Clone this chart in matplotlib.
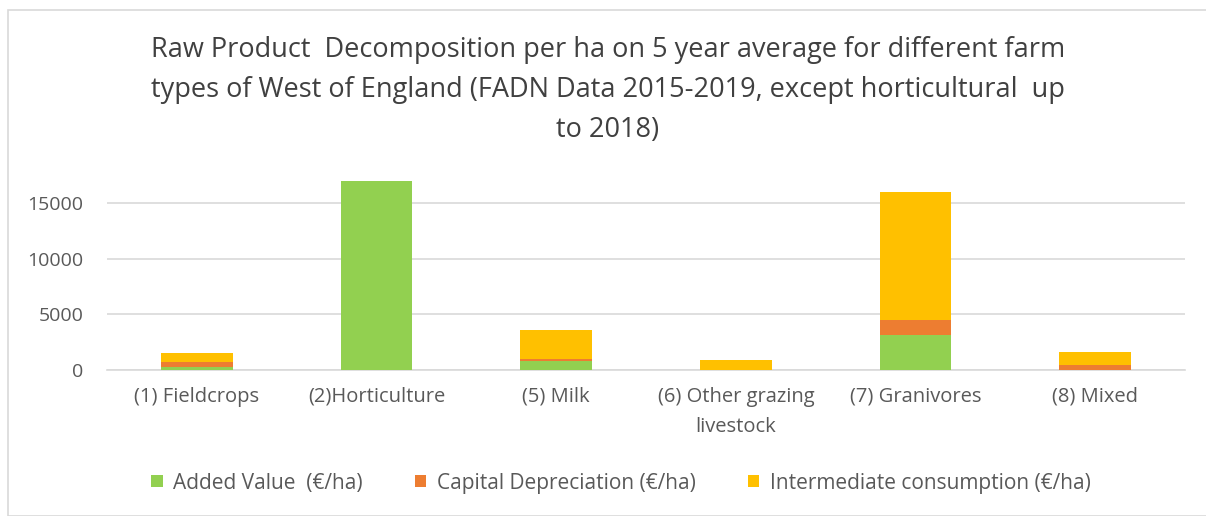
import numpy as np
import matplotlib
matplotlib.use("Agg")
import matplotlib.pyplot as plt
from matplotlib.patches import Rectangle

categories = ["(1) Fieldcrops", "(2)Horticulture", "(5) Milk",
              "(6) Other grazing\nlivestock", "(7) Granivores", "(8) Mixed"]
added_value = [270, 17000, 780, 0, 3100, 30]
capital_depreciation = [420, 0, 180, 40, 1430, 400]
intermediate_consumption = [870, 0, 2660, 900, 11480, 1220]

series_labels = ["Added Value  (€/ha)", "Capital Depreciation (€/ha)",
                 "Intermediate consumption (€/ha)"]
GREEN, ORANGE, YELLOW = "#92D050", "#ED7D31", "#FFC000"
TXT = "#595959"

plt.rcParams["font.family"] = ["Open Sans", "DejaVu Sans"]

W, H = 1206, 516
fig = plt.figure(figsize=(W / 100, H / 100), dpi=100)
ax = fig.add_axes([107 / W, 1 - 370 / H, (1185 - 107) / W, (370 - 175) / H])

x = np.arange(len(categories))
av = np.array(added_value)
cd = np.array(capital_depreciation)
ic = np.array(intermediate_consumption)
w = 0.4
ax.bar(x, av, w, color=GREEN, label=series_labels[0], zorder=3)
ax.bar(x, cd, w, bottom=av, color=ORANGE, label=series_labels[1], zorder=3)
ax.bar(x, ic, w, bottom=av + cd, color=YELLOW, label=series_labels[2], zorder=3)

ax.set_xlim(-0.5, len(categories) - 0.5)
ax.set_ylim(0, 17500)
ax.set_yticks([0, 5000, 10000, 15000])
ax.yaxis.grid(True, color="#D9D9D9", lw=1.2, zorder=0)
ax.set_xticks(x)
ax.set_xticklabels(categories, fontsize=14.5, color=TXT, linespacing=1.7)
ax.tick_params(axis="y", labelsize=14, labelcolor=TXT, length=0, pad=17)
ax.tick_params(axis="x", length=0, pad=12)
for s in ["top", "right", "left"]:
    ax.spines[s].set_visible(False)
ax.spines["bottom"].set_color("#D9D9D9")
ax.spines["bottom"].set_linewidth(1.2)

fig.text(608 / W, 1 - 90 / H,
         "Raw Product  Decomposition per ha on 5 year average for different farm\n"
         "types of West of England (FADN Data 2015-2019, except horticultural  up\n"
         "to 2018)",
         ha="center", va="center", fontsize=19.5, color="#404040", linespacing=1.55)

fig.legend(loc="center", bbox_to_anchor=(621 / W, 1 - 483 / H), ncol=3,
           frameon=False, fontsize=15, labelcolor=TXT, handlelength=0.55,
           handleheight=0.55, columnspacing=2.5, handletextpad=0.5)

fig.patches.append(Rectangle((8 / W, 0), 1, 1 - 10 / H, transform=fig.transFigure,
                             fill=False, ec="#D9D9D9", lw=1.2))

fig.savefig("out.png", dpi=100)
